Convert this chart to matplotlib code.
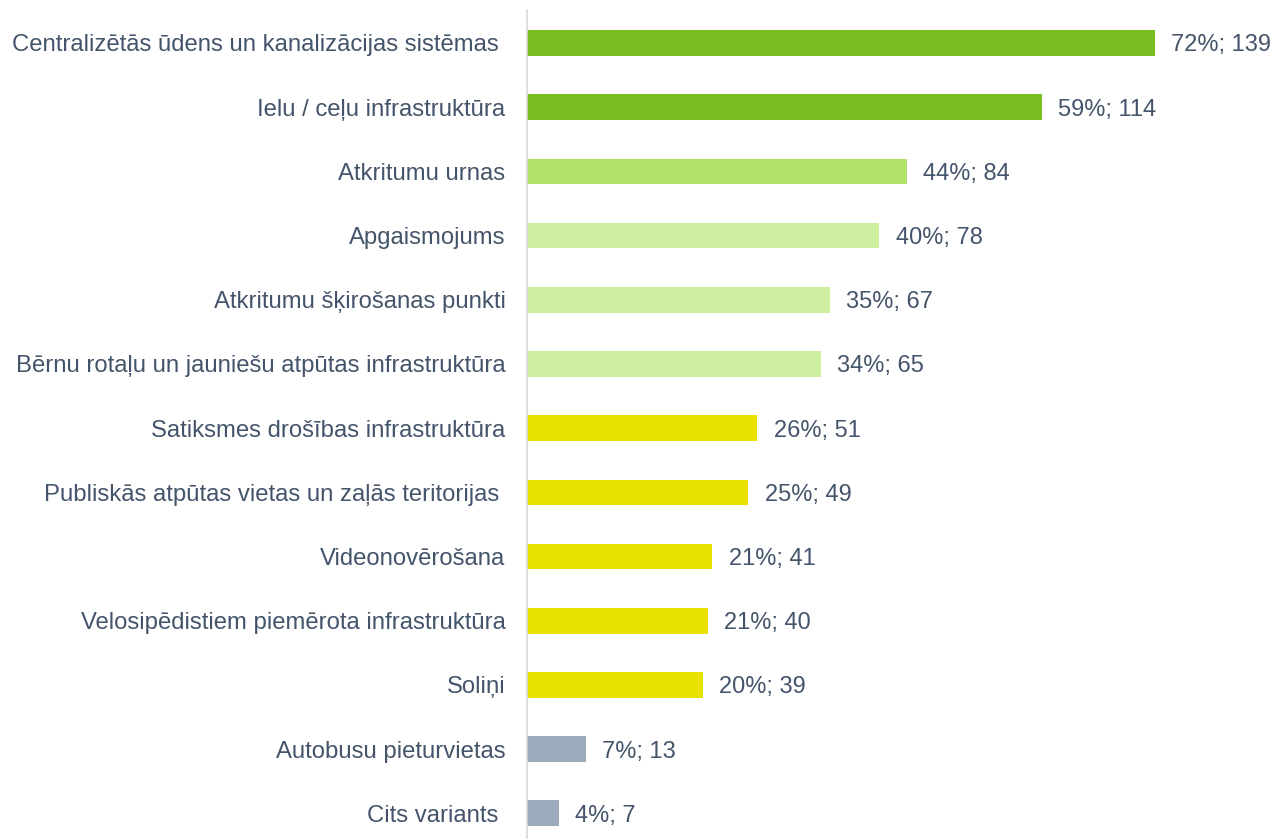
import matplotlib.pyplot as plt

categories = [
    "Centralizētās ūdens un kanalizācijas sistēmas ",
    "Ielu / ceļu infrastruktūra",
    "Atkritumu urnas",
    "Apgaismojums",
    "Atkritumu šķirošanas punkti",
    "Bērnu rotaļu un jauniešu atpūtas infrastruktūra",
    "Satiksmes drošības infrastruktūra",
    "Publiskās atpūtas vietas un zaļās teritorijas ",
    "Videonovērošana",
    "Velosipēdistiem piemērota infrastruktūra",
    "Soliņi",
    "Autobusu pieturvietas",
    "Cits variants ",
]
counts = [139, 114, 84, 78, 67, 65, 51, 49, 41, 40, 39, 13, 7]
percents = [72, 59, 44, 40, 35, 34, 26, 25, 21, 21, 20, 7, 4]

dark_green = "#78BE20"
mid_green = "#B1E36B"
pale_green = "#CDEE9F"
yellow = "#E8E000"
grey = "#9BABBC"
colors = [dark_green] * 2 + [mid_green] + [pale_green] * 3 + [yellow] * 5 + [grey] * 2

text_color = "#44546A"
plt.rcParams['font.family'] = ['Liberation Sans', 'DejaVu Sans']

fig = plt.figure(figsize=(12.76, 8.39), dpi=100)
ax = fig.add_axes([527 / 1276, 0, 749 / 1276, 1 - 10 / 839])

y = list(range(len(categories)))
ax.barh(y, counts, height=0.4, color=colors)

for yi, c, p in zip(y, counts, percents):
    ax.text(c + 3.6, yi, f"{p}%; {c}", va='center_baseline', ha='left',
            fontsize=17, color=text_color)

ax.set_yticks(y)
ax.set_yticklabels(categories, fontsize=17.2, color=text_color)
ax.tick_params(axis='y', length=0, pad=15.5)
ax.set_xticks([])
ax.set_xlim(0, 749 / 4.518)
ax.set_ylim(12.40, -0.514)

for s in ['top', 'right', 'bottom']:
    ax.spines[s].set_visible(False)
ax.spines['left'].set_color('#D9D9D9')
ax.spines['left'].set_linewidth(1.2)

fig.savefig("out.png", dpi=100)
